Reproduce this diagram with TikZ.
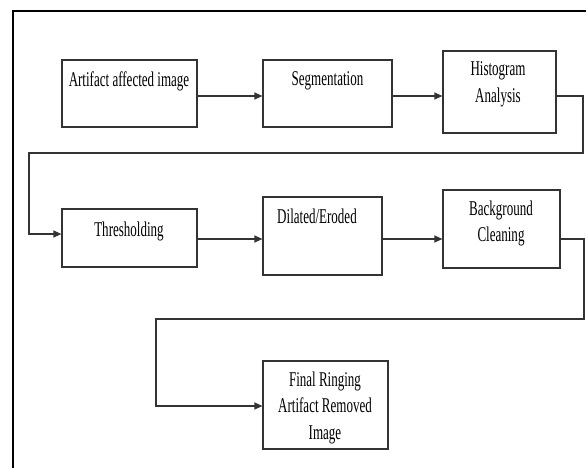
\documentclass[tikz,border=0pt]{standalone}
\usepackage{fontspec}
\setmainfont{Liberation Serif}[FakeStretch=0.62]
\usetikzlibrary{arrows.meta}
\tikzset{
  box/.style={draw=black!80, line width=1.2pt, fill=white, inner sep=0pt},
  txt/.style={inner sep=0pt, align=center, anchor=base, font=\fontsize{21}{26.5}\selectfont},
  conn/.style={draw=black!80, line width=1.2pt},
  arr/.style={conn, -{Triangle[length=8pt,width=7pt]}},
  frame/.style={draw=black, line width=2.6pt}
}
\begin{document}
\begin{tikzpicture}[x=1pt,y=-1pt]
\useasboundingbox (0,0) rectangle (586,468);
\fill[white] (0,0) rectangle (586,468);
\draw[frame] (590,11) -- (13,11) -- (13,472);

\node[box, minimum width=135, minimum height=67] (a) at (129.5,93.5) {};
\node[box, minimum width=129, minimum height=67] (b) at (327.5,93.5) {};
\node[box, minimum width=113, minimum height=82] (c) at (499.5,92) {};
\node[box, minimum width=135, minimum height=58] (d) at (129.5,238) {};
\node[box, minimum width=119, minimum height=78] (e) at (322.5,236) {};
\node[box, minimum width=117, minimum height=78] (f) at (501.5,229) {};
\node[box, minimum width=125, minimum height=88] (g) at (325.5,405) {};

\node[txt] (ta) at (129,87) {Artifact affected image};
\node[txt] (tb) at (327.5,86) {Segmentation};
\node[txt] (tc) at (498,102.5) {Histogram\\Analysis};
\node[txt] (td) at (129,236) {Thresholding};
\node[txt] (te) at (317,223) {Dilated/Eroded};
\node[txt] (tf) at (501,241.5) {Background\\Cleaning};
\node[txt] (tg) at (325,439) {Final Ringing\\Artifact Removed\\Image};

\draw[arr] (a.east |- 0,96) -- (b.west |- 0,96);
\draw[arr] (b.east |- 0,96) -- (c.west |- 0,96);
\draw[arr] (c.east |- 0,96) -- (583,96) |- (29,153) |- (d.west |- 0,234);
\draw[arr] (d.east |- 0,239) -- (e.west |- 0,239);
\draw[arr] (e.east |- 0,239) -- (f.west |- 0,239);
\draw[arr] (f.east |- 0,239) -- (584,239) |- (156,319) |- (g.west |- 0,406);
\end{tikzpicture}
\end{document}
